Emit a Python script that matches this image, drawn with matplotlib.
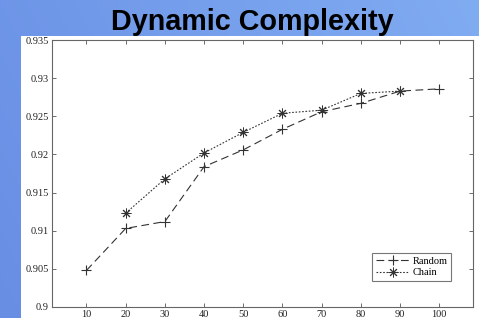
import numpy as np
import matplotlib
matplotlib.use("Agg")
import matplotlib.pyplot as plt

x_random = [10, 20, 30, 40, 50, 60, 70, 80, 90, 100]
y_random = [0.9048, 0.9103, 0.9112, 0.9184, 0.9206, 0.9233, 0.9256, 0.9267, 0.9283, 0.9286]
x_chain = [20, 30, 40, 50, 60, 70, 80, 90]
y_chain = [0.9123, 0.9168, 0.9202, 0.9229, 0.9254, 0.9258, 0.9280, 0.9283]
xticks = [10, 20, 30, 40, 50, 60, 70, 80, 90, 100]
yticks = [0.9, 0.905, 0.91, 0.915, 0.92, 0.925, 0.93, 0.935]
ytick_labels = ["0.9", "0.905", "0.91", "0.915", "0.92", "0.925", "0.93", "0.935"]
title = "Dynamic Complexity"

W, H = 479, 318
fig = plt.figure(figsize=(W / 100, H / 100), dpi=100)

# background gradient
bg = fig.add_axes([0, 0, 1, 1])
bg.set_axis_off()
gx = np.linspace(0, 1, 256)
gy = np.linspace(0, 1, 64)
GX, GY = np.meshgrid(gx, gy)
t = np.clip(0.75 * GX + 0.25 * (1 - GY), 0, 1)
c0 = np.array([104, 142, 228]) / 255
c1 = np.array([128, 172, 242]) / 255
img = c0[None, None, :] * (1 - t[..., None]) + c1[None, None, :] * t[..., None]
bg.imshow(img, aspect="auto", extent=[0, 1, 0, 1], origin="upper")
bg.set_xlim(0, 1)
bg.set_ylim(0, 1)

# white panel
panel = fig.add_axes([21 / W, 0, 1 - 21 / W, (H - 36) / H])
panel.set_axis_off()
panel.add_patch(plt.Rectangle((0, 0), 1, 1, color="white", transform=panel.transAxes))

fig.text(252 / W, 1 - 21.5 / H, title, ha="center", va="center",
         fontsize=20.7, fontweight="bold", family="Liberation Sans", color="black")

ax = fig.add_axes([52 / W, 1 - 307 / H, (473 - 52) / W, (307 - 40) / H])
ax.set_facecolor("white")
ax.plot(x_random, y_random, color="#333333", linestyle=(0, (7, 4)), linewidth=0.8,
        marker="+", markersize=7, markeredgewidth=0.8, label="Random")
ax.plot(x_chain, y_chain, color="#333333", linestyle=(0, (1.5, 1.5)), linewidth=0.8,
        marker=(8, 2, 0), markersize=7, markeredgewidth=0.7, label="Chain")
ax.set_xlim(1.2, 108.6)
ax.set_ylim(0.9, 0.935)
ax.set_xticks(xticks)
ax.set_xticklabels([str(v) for v in xticks])
ax.set_yticks(yticks)
ax.set_yticklabels(ytick_labels)
ax.tick_params(direction="in", top=True, right=True, length=3, width=0.6,
               color="#555555", labelsize=7.5, pad=2.5)
for lab in ax.get_xticklabels() + ax.get_yticklabels():
    lab.set_family("Liberation Serif")
    lab.set_color("#222222")
for s in ax.spines.values():
    s.set_color("#666666")
    s.set_linewidth(0.8)
leg = ax.legend(loc="lower right", bbox_to_anchor=(0.948, 0.097),
                prop={"family": "Liberation Serif", "size": 7.5},
                frameon=True, fancybox=False, edgecolor="#555555", handlelength=3.2,
                borderpad=0.35, labelspacing=0.25, handletextpad=0.3, borderaxespad=0)
leg.get_frame().set_linewidth(0.8)

fig.savefig("out.png", dpi=100)
